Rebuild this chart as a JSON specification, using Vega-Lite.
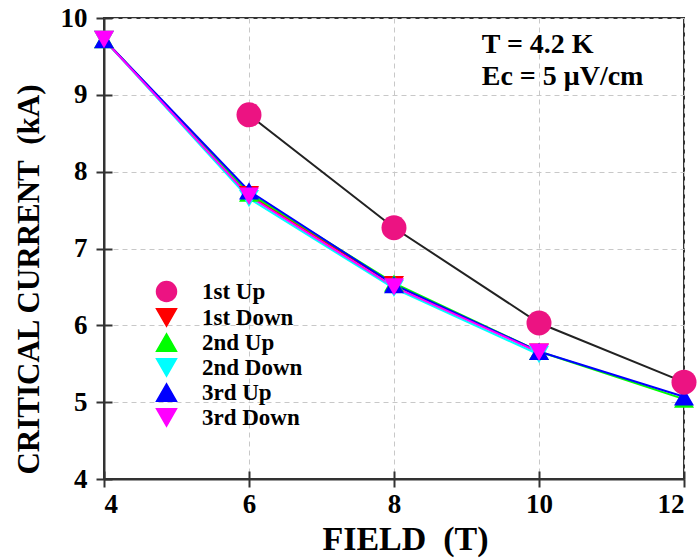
{
  "$schema": "https://vega.github.io/schema/vega-lite/v6.json",
  "width": 580,
  "height": 461,
  "autosize": "none",
  "padding": {"left": 104, "top": 18, "right": 13, "bottom": 81},
  "background": "white",
  "config": {
    "view": {"stroke": "#333333", "strokeWidth": 2},
    "font": "Liberation Serif",
    "axis": {"labelFont": "Liberation Serif", "titleFont": "Liberation Serif", "labelFontWeight": "bold", "titleFontWeight": "bold", "labelColor": "black", "titleColor": "black"},
    "legend": {"labelFont": "Liberation Serif", "labelFontWeight": "bold", "labelColor": "black", "labelFontSize": 23, "rowPadding": 0, "symbolSize": 400, "labelOffset": 24, "padding": 0},
    "text": {"font": "Liberation Serif"}
  },
  "data": {
    "values": [
      {"series": "1st Down", "x": 4, "y": 9.72},
      {"series": "1st Down", "x": 6, "y": 7.70},
      {"series": "1st Down", "x": 8, "y": 6.53},
      {"series": "1st Down", "x": 10, "y": 5.65},
      {"series": "2nd Up", "x": 4, "y": 9.72},
      {"series": "2nd Up", "x": 6, "y": 7.72},
      {"series": "2nd Up", "x": 8, "y": 6.55},
      {"series": "2nd Up", "x": 10, "y": 5.66},
      {"series": "2nd Up", "x": 12, "y": 5.04},
      {"series": "2nd Down", "x": 4, "y": 9.72},
      {"series": "2nd Down", "x": 6, "y": 7.65},
      {"series": "2nd Down", "x": 8, "y": 6.48},
      {"series": "2nd Down", "x": 10, "y": 5.62},
      {"series": "3rd Up", "x": 4, "y": 9.72},
      {"series": "3rd Up", "x": 6, "y": 7.75},
      {"series": "3rd Up", "x": 8, "y": 6.53},
      {"series": "3rd Up", "x": 10, "y": 5.66},
      {"series": "3rd Up", "x": 12, "y": 5.07},
      {"series": "3rd Down", "x": 4, "y": 9.72},
      {"series": "3rd Down", "x": 6, "y": 7.68},
      {"series": "3rd Down", "x": 8, "y": 6.50},
      {"series": "3rd Down", "x": 10, "y": 5.65},
      {"series": "1st Up", "x": 6, "y": 8.74},
      {"series": "1st Up", "x": 8, "y": 7.27},
      {"series": "1st Up", "x": 10, "y": 6.03},
      {"series": "1st Up", "x": 12, "y": 5.26}
    ]
  },
  "layer": [
    {
      "transform": [{"filter": "datum.series === '1st Up'"}],
      "mark": {"type": "line", "strokeWidth": 2, "color": "#222222"},
      "encoding": {
        "x": {"field": "x", "type": "quantitative", "scale": {"domain": [4, 12], "nice": false, "zero": false},
          "axis": {"orient": "bottom", "values": [4, 6, 8, 10, 12], "tickSize": 8, "tickWidth": 2, "tickColor": "#333333", "domainColor": "#333333", "domainWidth": 2, "labelFont": "Liberation Serif", "labelFontWeight": "bold", "labelFontSize": 27, "labelPadding": 4, "grid": true, "gridColor": "#c8c8c8", "gridDash": [5, 4], "gridWidth": 1, "title": "FIELD\u00a0 (T)", "titleFont": "Liberation Serif", "titleFontSize": 34, "titleX": 301, "titleY": 60, "titleBaseline": "middle", "titleAlign": "center"}},
        "y": {"field": "y", "type": "quantitative", "scale": {"domain": [4, 10], "nice": false, "zero": false},
          "axis": {"orient": "left", "values": [4, 5, 6, 7, 8, 9, 10], "tickSize": 8, "tickWidth": 2, "tickColor": "#333333", "domainColor": "#333333", "domainWidth": 2, "labelFont": "Liberation Serif", "labelFontWeight": "bold", "labelFontSize": 27, "labelPadding": 9, "grid": true, "gridColor": "#c8c8c8", "gridDash": [5, 4], "gridWidth": 1, "title": "CRITICAL CURRENT\u00a0 (kA)", "titleFont": "Liberation Serif", "titleFontSize": 31, "titleX": -75, "titleY": 261, "titleAngle": 270, "titleBaseline": "middle", "titleAlign": "center"}}
      }
    },
    {
      "transform": [{"filter": "datum.series !== '1st Up'"}],
      "mark": {"type": "line", "strokeWidth": 2},
      "encoding": {
        "x": {"field": "x", "type": "quantitative", "axis": null},
        "y": {"field": "y", "type": "quantitative", "axis": null},
        "color": {"field": "series", "type": "nominal",
          "scale": {"domain": ["1st Up", "1st Down", "2nd Up", "2nd Down", "3rd Up", "3rd Down"], "range": ["#ec1382", "#ff0000", "#00ff00", "#00ffff", "#0000ff", "#ff00ff"]},
          "legend": {"title": null, "orient": "none", "legendX": 51, "legendY": 262, "symbolSize": 400, "labelOffset": 24, "rowPadding": 0, "padding": 0, "labelLimit": 300}}
      }
    },
    {
      "mark": {"type": "point", "filled": true, "opacity": 1},
      "encoding": {
        "x": {"field": "x", "type": "quantitative",
          "axis": {"orient": "bottom", "offset": -8, "tickSize": 8, "tickWidth": 2, "tickColor": "#333333", "labels": false, "domain": false, "grid": false, "title": null, "values": [4, 6, 8, 10, 12]}},
        "y": {"field": "y", "type": "quantitative",
          "axis": {"orient": "left", "offset": -8, "tickSize": 8, "tickWidth": 2, "tickColor": "#333333", "labels": false, "domain": false, "grid": false, "title": null, "values": [4, 5, 6, 7, 8, 9, 10]}},
        "color": {"field": "series", "type": "nominal",
          "legend": {"title": null, "orient": "none", "legendX": 51, "legendY": 262, "symbolSize": 400, "labelOffset": 24, "rowPadding": 0, "padding": 0, "labelLimit": 300}},
        "shape": {"field": "series", "type": "nominal",
          "scale": {"domain": ["1st Up", "1st Down", "2nd Up", "2nd Down", "3rd Up", "3rd Down"], "range": ["circle", "triangle-down", "triangle-up", "triangle-down", "triangle-up", "triangle-down"]},
          "legend": {"title": null, "orient": "none", "legendX": 51, "legendY": 262, "symbolSize": 400, "labelOffset": 24, "rowPadding": 0, "padding": 0, "labelLimit": 300}},
        "size": {"condition": {"test": "datum.series === '1st Up'", "value": 625}, "value": 400}
      }
    },
    {
      "data": {"values": [
        {"x": 9.21, "y": 9.545, "label": "T = 4.2 K"},
        {"x": 9.21, "y": 9.128, "label": "Ec = 5 μV/cm"}
      ]},
      "mark": {"type": "text", "align": "left", "baseline": "alphabetic", "font": "Liberation Serif", "fontWeight": "bold", "fontSize": 28, "color": "black"},
      "encoding": {
        "x": {"field": "x", "type": "quantitative", "axis": null},
        "y": {"field": "y", "type": "quantitative", "axis": null},
        "text": {"field": "label", "type": "nominal"}
      }
    }
  ],
  "resolve": {"axis": {"x": "independent", "y": "independent"}}
}
